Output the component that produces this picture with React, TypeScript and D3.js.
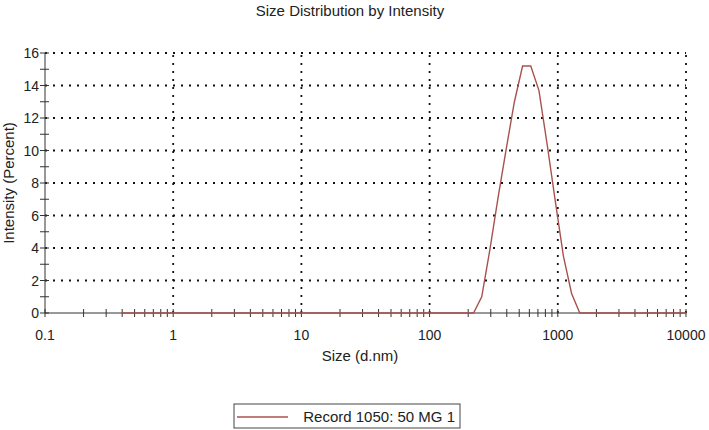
import React, { useRef, useEffect } from 'react';
import * as d3 from 'd3';

// Size bins (d.nm) and intensity (%)
const sizes = [0.4, 190.1, 220.2, 255.0, 295.3, 342.0, 396.1, 458.7, 531.2, 615.1, 712.4, 825.0, 955.4, 1106, 1281, 1484, 1718, 10000];
const intensity = [0, 0, 0, 1.0, 3.9, 7.1, 10.1, 13.0, 15.2, 15.2, 13.7, 10.4, 6.9, 3.5, 1.2, 0, 0, 0];

const xMajor = [0.1, 1, 10, 100, 1000, 10000];
const xMajorLabels = ['0.1', '1', '10', '100', '1000', '10000'];
const yMajor = [0, 2, 4, 6, 8, 10, 12, 14, 16];

const title = 'Size Distribution by Intensity';
const xTitle = 'Size (d.nm)';
const yTitle = 'Intensity (Percent)';
const seriesName = 'Record 1050: 50 MG 1';

const App = () => {
  const ref = useRef<SVGSVGElement>(null);

  useEffect(() => {
    const width = 709;
    const height = 430;
    const m = { left: 45, right: 23, top: 53, bottom: 117 };
    const font = 'Liberation Sans, Arial, sans-serif';
    const lineColor = '#a8524e';

    const svg = d3.select(ref.current);
    svg.selectAll('*').remove();
    svg.attr('width', width).attr('height', height);

    const x = d3.scaleLog().domain([0.1, 10000]).range([m.left, width - m.right]);
    const y = d3.scaleLinear().domain([0, 16]).range([height - m.bottom, m.top]);

    // Dotted grid
    const grid = svg.append('g');
    grid.selectAll('line.h')
      .data(yMajor.filter(d => d > 0))
      .enter().append('line')
      .attr('x1', m.left).attr('x2', width - m.right)
      .attr('y1', d => y(d)).attr('y2', d => y(d))
      .attr('stroke', '#111').attr('stroke-width', 1.8)
      .attr('stroke-dasharray', '2 6');
    grid.selectAll('line.v')
      .data(xMajor.filter(d => d > 0.1))
      .enter().append('line')
      .attr('x1', d => x(d)).attr('x2', d => x(d))
      .attr('y1', y(0)).attr('y2', y(16))
      .attr('stroke', '#111').attr('stroke-width', 1.8)
      .attr('stroke-dasharray', '2 6');

    // Axes
    const axis = svg.append('g').attr('stroke', '#333').attr('stroke-width', 1);
    axis.append('line').attr('x1', m.left).attr('x2', width - m.right).attr('y1', y(0)).attr('y2', y(0));
    axis.append('line').attr('x1', m.left).attr('x2', m.left).attr('y1', y(0)).attr('y2', y(16));

    // x ticks (log minor ticks crossing the axis)
    axis.selectAll('line.xt')
      .data(x.ticks())
      .enter().append('line')
      .attr('x1', d => x(d)).attr('x2', d => x(d))
      .attr('y1', y(0) - 4).attr('y2', y(0) + 4);

    // y ticks, majors and minors
    axis.selectAll('line.yt')
      .data(d3.range(0, 17, 1))
      .enter().append('line')
      .attr('x1', m.left - 5).attr('x2', m.left + 4)
      .attr('y1', d => y(d)).attr('y2', d => y(d));

    // Series line (on top of the axis, like the original)
    const pts = sizes.map((s, i) => [s, intensity[i]] as [number, number]);
    const line = d3.line<[number, number]>().x(d => x(d[0])).y(d => y(d[1]));
    svg.append('path')
      .attr('d', line(pts))
      .attr('fill', 'none')
      .attr('stroke', lineColor)
      .attr('stroke-width', 1.4);

    // Tick labels
    svg.append('g').selectAll('text')
      .data(xMajor)
      .enter().append('text')
      .attr('x', d => x(d)).attr('y', y(0) + 27)
      .attr('text-anchor', 'middle')
      .attr('font-family', font).attr('font-size', 14).attr('fill', '#222')
      .text((d, i) => xMajorLabels[i]);

    svg.append('g').selectAll('text')
      .data(yMajor)
      .enter().append('text')
      .attr('x', m.left - 6).attr('y', d => y(d) + 5)
      .attr('text-anchor', 'end')
      .attr('font-family', font).attr('font-size', 14).attr('fill', '#222')
      .text(d => d);

    // Titles
    svg.append('text')
      .attr('x', 350).attr('y', 16)
      .attr('text-anchor', 'middle')
      .attr('font-family', font).attr('font-size', 15).attr('fill', '#222')
      .text(title);

    svg.append('text')
      .attr('x', 360).attr('y', 361)
      .attr('text-anchor', 'middle')
      .attr('font-family', font).attr('font-size', 15).attr('fill', '#222')
      .text(xTitle);

    svg.append('text')
      .attr('transform', `translate(14,${(y(0) + y(16)) / 2}) rotate(-90)`)
      .attr('text-anchor', 'middle')
      .attr('font-family', font).attr('font-size', 15).attr('fill', '#222')
      .text(yTitle);

    // Legend
    const lg = svg.append('g').attr('transform', 'translate(234,404)');
    lg.append('rect')
      .attr('width', 226).attr('height', 24)
      .attr('fill', 'white').attr('stroke', '#444').attr('stroke-width', 1);
    lg.append('line')
      .attr('x1', 3).attr('x2', 54).attr('y1', 13).attr('y2', 13)
      .attr('stroke', lineColor).attr('stroke-width', 1.3);
    lg.append('text')
      .attr('x', 221).attr('y', 18)
      .attr('text-anchor', 'end')
      .attr('font-family', font).attr('font-size', 15).attr('fill', '#222')
      .text(seriesName);
  }, []);

  return (
    <svg ref={ref} style={{ position: 'absolute', left: 0, top: 0 }}></svg>
  );
};

export default App;
